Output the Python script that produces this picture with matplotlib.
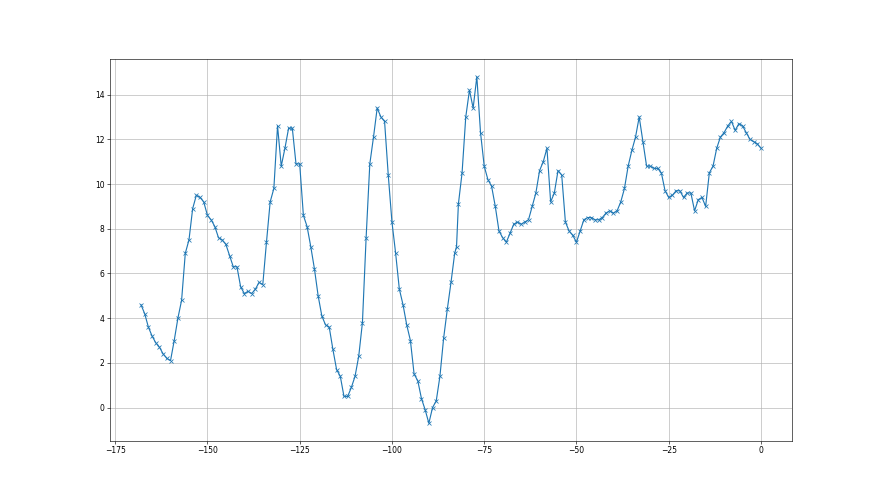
import matplotlib
matplotlib.use("Agg")
import matplotlib.pyplot as plt

x_values = [
    -168, -167, -166, -165, -164, -163, -162, -161, -160, -159,
    -158, -157, -156, -155, -154, -153, -152, -151, -150, -149,
    -148, -147, -146, -145, -144, -143, -142, -141, -140, -139,
    -138, -137, -136, -135, -134, -133, -132, -131, -130, -129,
    -128, -127, -126, -125, -124, -123, -122, -121, -120, -119,
    -118, -117, -116, -115, -114, -113, -112, -111, -110, -109,
    -108, -107, -106, -105, -104, -103, -102, -101, -100, -99,
    -98, -97, -96, -95, -94, -93, -92, -91, -90, -89,
    -88, -87, -86, -85, -84, -83, -82.5, -82, -81, -80,
    -79, -78, -77, -76, -75, -74, -73, -72, -71, -70,
    -69, -68, -67, -66, -65, -64, -63, -62, -61, -60,
    -59, -58, -57, -56, -55, -54, -53, -52, -51, -50,
    -49, -48, -47, -46, -45, -44, -43, -42, -41, -40,
    -39, -38, -37, -36, -35, -34, -33, -32, -31, -30,
    -29, -28, -27, -26, -25, -24, -23, -22, -21, -20,
    -19, -18, -17, -16, -15, -14, -13, -12, -11, -10,
    -9, -8, -7, -6, -5, -4, -3, -2, -1, 0,
]

y_values = [
    4.6, 4.2, 3.6, 3.2, 2.9, 2.7, 2.4, 2.2, 2.1, 3.0,
    4.0, 4.8, 6.9, 7.5, 8.9, 9.5, 9.4, 9.2, 8.6, 8.4,
    8.1, 7.6, 7.5, 7.3, 6.8, 6.3, 6.3, 5.4, 5.1, 5.2,
    5.1, 5.3, 5.6, 5.5, 7.4, 9.2, 9.8, 12.6, 10.8, 11.6,
    12.5, 12.5, 10.9, 10.9, 8.6, 8.1, 7.2, 6.2, 5.0, 4.1,
    3.7, 3.6, 2.6, 1.7, 1.4, 0.5, 0.5, 0.9, 1.4, 2.3,
    3.8, 7.6, 10.9, 12.1, 13.4, 13.0, 12.8, 10.4, 8.3, 6.9,
    5.3, 4.6, 3.7, 3.0, 1.5, 1.2, 0.4, -0.1, -0.7, 0.0,
    0.3, 1.4, 3.1, 4.4, 5.6, 6.9, 7.2, 9.1, 10.5, 13.0,
    14.2, 13.4, 14.8, 12.3, 10.8, 10.2, 9.9, 9.0, 7.9, 7.6,
    7.4, 7.8, 8.2, 8.3, 8.2, 8.3, 8.4, 9.0, 9.6, 10.6,
    11.0, 11.6, 9.2, 9.6, 10.6, 10.4, 8.3, 7.9, 7.7, 7.4,
    7.9, 8.4, 8.5, 8.5, 8.4, 8.4, 8.5, 8.7, 8.8, 8.7,
    8.8, 9.2, 9.8, 10.8, 11.5, 12.1, 13.0, 11.9, 10.8, 10.8,
    10.7, 10.7, 10.5, 9.7, 9.4, 9.5, 9.7, 9.7, 9.4, 9.6,
    9.6, 8.8, 9.3, 9.4, 9.0, 10.5, 10.8, 11.6, 12.1, 12.3,
    12.6, 12.8, 12.4, 12.7, 12.6, 12.3, 12.0, 11.9, 11.8, 11.6,
]

fig, ax = plt.subplots(figsize=(16, 9), dpi=55)
ax.plot(x_values, y_values, marker="x", color="#1f77b4")
ax.grid(True)
fig.savefig("out.png", dpi=55)
